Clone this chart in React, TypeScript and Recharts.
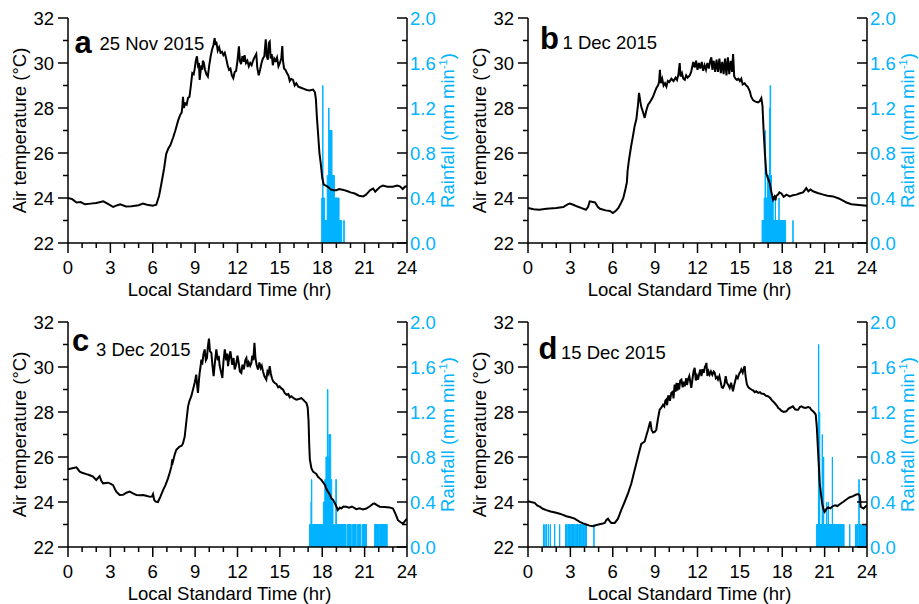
import React from 'react';
import { ComposedChart, Line, Area, XAxis, YAxis, Label, Customized } from 'recharts';

const FONT = '"Liberation Sans", Arial, Helvetica, sans-serif';
const BLUE = '#00b2ff';
const FS = 18.5;

const HOUR_TICKS = [0, 1, 2, 3, 4, 5, 6, 7, 8, 9, 10, 11, 12, 13, 14, 15, 16, 17, 18, 19, 20, 21, 22, 23, 24];
const TEMP_TICKS = [22, 23, 24, 25, 26, 27, 28, 29, 30, 31, 32];
const RAIN_TICKS = [0, 0.2, 0.4, 0.6, 0.8, 1.0, 1.2, 1.4, 1.6, 1.8, 2.0];

type Pair = [number, number];
type Run = [number, number, number]; // start hr, end hr, mm/min

// 25 Nov 2015
const tempA: Pair[] = [
  [0, 24.0], [0.3, 23.95], [0.6, 23.8], [0.9, 23.82], [1.2, 23.72], [1.6, 23.75], [2.0, 23.78], [2.5, 23.85],
  [2.8, 23.75], [3.2, 23.6], [3.5, 23.68], [3.7, 23.72], [4.1, 23.62], [4.5, 23.63], [5.0, 23.68], [5.3, 23.75],
  [5.6, 23.7], [6.0, 23.66], [6.25, 23.7], [6.45, 24.1], [6.6, 24.6], [6.8, 25.3], [6.95, 25.95], [7.1, 26.2],
  [7.25, 26.35], [7.45, 26.7], [7.6, 27.0], [7.8, 27.45], [7.95, 27.7], [8.05, 27.8], [8.1, 28.1], [8.14, 28.5],
  [8.2, 28.0], [8.3, 28.2], [8.4, 28.15], [8.5, 28.45], [8.6, 28.5], [8.7, 29.0], [8.8, 29.55], [8.9, 29.5],
  [8.97, 29.75], [9.05, 30.1], [9.13, 30.3], [9.2, 29.9], [9.27, 30.0], [9.32, 29.25], [9.38, 29.6], [9.44, 29.9],
  [9.5, 29.7], [9.55, 30.1], [9.62, 30.0], [9.7, 29.7], [9.8, 29.5], [9.9, 29.4], [10.0, 29.9], [10.1, 30.3],
  [10.2, 30.6], [10.3, 30.8], [10.38, 31.1], [10.45, 30.8], [10.5, 30.95], [10.6, 30.55], [10.7, 30.7], [10.8, 30.45],
  [10.9, 30.5], [11.0, 30.35], [11.1, 30.45], [11.2, 30.2], [11.3, 29.9], [11.4, 29.7], [11.5, 29.75], [11.6, 29.45],
  [11.7, 29.33], [11.8, 29.6], [11.9, 29.65], [12.0, 30.1], [12.1, 30.74], [12.17, 30.1], [12.25, 29.95], [12.35, 30.3],
  [12.45, 30.05], [12.5, 30.35], [12.6, 30.0], [12.7, 30.1], [12.8, 29.85], [12.9, 30.0], [13.0, 29.9], [13.1, 30.1],
  [13.2, 30.25], [13.33, 30.4], [13.4, 29.8], [13.5, 29.45], [13.6, 29.7], [13.7, 30.0], [13.8, 30.2], [13.9, 30.3],
  [14.0, 31.05], [14.07, 30.3], [14.15, 30.15], [14.22, 30.9], [14.28, 30.95], [14.35, 30.2], [14.42, 30.4], [14.5, 29.9],
  [14.6, 30.2], [14.7, 30.1], [14.8, 30.25], [14.9, 29.85], [15.0, 30.0], [15.1, 30.2], [15.17, 30.75], [15.22, 30.1],
  [15.3, 29.75], [15.4, 29.7], [15.5, 29.55], [15.6, 29.45], [15.7, 29.2], [15.8, 29.3], [15.93, 29.25], [16.05, 29.0],
  [16.16, 29.1], [16.3, 28.95], [16.5, 28.9], [16.7, 28.85], [16.9, 28.8], [17.1, 28.78], [17.35, 28.82], [17.48, 28.7],
  [17.55, 28.4], [17.62, 27.6], [17.7, 26.9], [17.8, 26.0], [17.9, 25.5], [18.0, 24.9], [18.1, 24.6], [18.25, 24.55],
  [18.4, 24.5], [18.6, 24.38], [18.8, 24.35], [19.0, 24.35], [19.2, 24.4], [19.5, 24.36], [19.8, 24.3], [20.0, 24.25],
  [20.3, 24.2], [20.6, 24.1], [20.9, 24.07], [21.1, 24.15], [21.25, 24.25], [21.4, 24.35], [21.6, 24.42], [21.75, 24.28],
  [21.9, 24.38], [22.1, 24.5], [22.3, 24.55], [22.6, 24.5], [23.0, 24.5], [23.3, 24.55], [23.5, 24.52], [23.7, 24.4],
  [23.85, 24.5], [24.0, 24.52],
];
const rainA: Run[] = [
  [17.96, 18.03, 0.4], [18.03, 18.05, 1.4], [18.05, 18.17, 0.4], [18.17, 18.35, 0.2], [18.35, 18.45, 0.6],
  [18.45, 18.48, 1.2], [18.48, 18.69, 1.0], [18.69, 18.86, 0.6], [18.86, 19.19, 0.4], [19.19, 19.38, 0.2],
  [19.52, 19.56, 0.2],
];

// 1 Dec 2015
const tempB: Pair[] = [
  [0, 23.56], [0.4, 23.5], [0.8, 23.48], [1.3, 23.52], [2.0, 23.56], [2.5, 23.6], [2.8, 23.72], [2.95, 23.75],
  [3.2, 23.7], [3.5, 23.62], [3.8, 23.55], [4.1, 23.48], [4.25, 23.6], [4.37, 23.85], [4.6, 23.82], [4.75, 23.8],
  [4.95, 23.6], [5.1, 23.52], [5.5, 23.45], [5.8, 23.42], [6.0, 23.33], [6.2, 23.42], [6.4, 23.56], [6.6, 23.8],
  [6.75, 24.0], [6.9, 24.4], [7.0, 24.7], [7.05, 25.2], [7.15, 25.7], [7.2, 25.9], [7.3, 26.3], [7.43, 26.75],
  [7.55, 27.2], [7.67, 27.5], [7.78, 28.1], [7.86, 28.67], [7.95, 28.3], [8.02, 28.05], [8.15, 27.8], [8.26, 27.56],
  [8.38, 27.9], [8.5, 28.15], [8.62, 28.25], [8.73, 28.37], [8.85, 28.5], [9.0, 28.75], [9.1, 28.9], [9.2, 29.0],
  [9.28, 29.15], [9.34, 29.7], [9.4, 29.1], [9.5, 29.3], [9.6, 29.0], [9.7, 29.1], [9.8, 28.95], [9.9, 29.2],
  [10.0, 29.15], [10.15, 29.3], [10.3, 29.2], [10.45, 29.35], [10.55, 29.25], [10.65, 29.5], [10.74, 30.0], [10.8, 29.4],
  [10.9, 29.55], [11.0, 29.3], [11.1, 29.25], [11.2, 29.45], [11.3, 29.35], [11.45, 29.45], [11.55, 29.6], [11.7, 30.05],
  [11.8, 29.8], [11.9, 30.1], [12.0, 29.7], [12.1, 30.0], [12.2, 29.75], [12.3, 30.05], [12.4, 29.65], [12.5, 29.9],
  [12.6, 29.7], [12.7, 30.0], [12.8, 29.75], [12.9, 30.1], [12.98, 30.25], [13.05, 29.7], [13.15, 30.1], [13.25, 29.6],
  [13.35, 30.15], [13.45, 29.6], [13.55, 30.2], [13.65, 29.55], [13.75, 30.05], [13.85, 29.5], [13.95, 30.2], [14.05, 29.45],
  [14.15, 30.25], [14.25, 29.5], [14.35, 30.1], [14.45, 29.6], [14.52, 30.4], [14.6, 29.4], [14.7, 29.3], [14.8, 29.25],
  [14.9, 29.3], [15.0, 29.2], [15.1, 29.3], [15.2, 29.05], [15.34, 29.1], [15.45, 29.0], [15.55, 28.95], [15.7, 28.75],
  [15.8, 28.5], [15.93, 28.35], [16.1, 28.28], [16.28, 28.25], [16.4, 28.3], [16.52, 28.44], [16.6, 28.1], [16.68, 27.0],
  [16.78, 25.9], [16.87, 25.1], [16.97, 24.9], [17.1, 24.7], [17.22, 24.3], [17.35, 23.92], [17.45, 24.05], [17.52, 23.9],
  [17.58, 24.1], [17.7, 24.15], [17.8, 24.25], [17.94, 24.2], [18.1, 24.05], [18.3, 24.15], [18.53, 24.07], [18.75, 24.12],
  [19.0, 24.15], [19.2, 24.2], [19.47, 24.25], [19.6, 24.35], [19.7, 24.44], [19.85, 24.3], [20.0, 24.38], [20.18, 24.3],
  [20.5, 24.22], [20.9, 24.15], [21.2, 24.1], [21.6, 24.07], [22.0, 23.98], [22.3, 23.88], [22.54, 23.8], [22.9, 23.72],
  [23.25, 23.7], [23.6, 23.68], [24.0, 23.66],
];
const rainB: Run[] = [
  [16.57, 16.72, 0.2], [16.72, 16.78, 0.4], [16.78, 16.82, 1.0], [16.82, 16.95, 0.4], [16.95, 17.1, 0.6],
  [17.1, 17.14, 1.2], [17.14, 17.18, 1.4], [17.18, 17.24, 0.6], [17.24, 17.36, 0.4], [17.36, 17.5, 0.2],
  [17.5, 17.52, 0.4], [17.52, 17.76, 0.2], [17.76, 17.78, 0.4], [17.78, 18.24, 0.2], [18.75, 18.77, 0.2],
];

// 3 Dec 2015
const tempC: Pair[] = [
  [0, 25.45], [0.3, 25.5], [0.6, 25.54], [0.83, 25.35], [1.0, 25.3], [1.3, 25.24], [1.5, 25.2], [1.77, 25.13],
  [2.0, 24.98], [2.24, 25.15], [2.35, 24.95], [2.48, 24.83], [2.83, 24.86], [3.0, 24.82], [3.19, 24.75], [3.3, 24.6],
  [3.42, 24.46], [3.66, 24.31], [3.9, 24.32], [4.13, 24.41], [4.37, 24.46], [4.6, 24.38], [4.84, 24.31], [5.1, 24.3],
  [5.31, 24.31], [5.6, 24.27], [5.78, 24.23], [5.95, 24.25], [6.02, 24.35], [6.1, 24.1], [6.2, 24.02], [6.37, 24.0],
  [6.55, 24.25], [6.73, 24.53], [6.9, 24.75], [7.08, 25.05], [7.2, 25.3], [7.32, 25.57], [7.38, 25.9], [7.43, 25.8],
  [7.55, 26.1], [7.67, 26.32], [7.8, 26.4], [7.9, 26.46], [8.05, 26.5], [8.14, 26.6], [8.26, 26.9], [8.4, 27.7],
  [8.5, 28.25], [8.6, 28.5], [8.73, 28.7], [8.85, 29.0], [8.97, 29.3], [9.08, 29.66], [9.14, 29.2], [9.2, 28.85],
  [9.27, 29.4], [9.32, 29.74], [9.38, 30.0], [9.44, 30.33], [9.5, 30.1], [9.6, 30.6], [9.68, 30.78], [9.76, 30.3],
  [9.84, 30.4], [9.9, 30.9], [9.98, 31.26], [10.05, 30.7], [10.15, 30.63], [10.22, 30.1], [10.31, 29.59], [10.4, 30.2],
  [10.5, 30.78], [10.6, 30.3], [10.67, 30.5], [10.74, 30.04], [10.83, 29.8], [10.93, 29.51], [11.0, 30.2], [11.1, 30.78],
  [11.2, 30.3], [11.27, 30.6], [11.33, 30.04], [11.43, 30.5], [11.5, 30.7], [11.56, 30.4], [11.63, 30.1], [11.72, 30.4],
  [11.8, 29.89], [11.9, 30.1], [12.0, 30.5], [12.08, 30.2], [12.17, 29.8], [12.27, 29.74], [12.35, 30.1], [12.45, 29.9],
  [12.55, 30.3], [12.63, 30.4], [12.72, 30.0], [12.8, 30.2], [12.9, 30.05], [12.98, 30.18], [13.05, 30.5], [13.12, 30.3],
  [13.2, 31.07], [13.27, 30.4], [13.35, 30.1], [13.45, 29.89], [13.55, 30.2], [13.65, 29.95], [13.72, 30.05], [13.8, 29.81],
  [13.9, 29.6], [14.04, 29.44], [14.12, 29.8], [14.2, 29.7], [14.28, 30.04], [14.36, 29.7], [14.44, 29.5], [14.52, 29.37],
  [14.62, 29.3], [14.75, 29.25], [14.88, 29.1], [14.98, 29.14], [15.1, 29.05], [15.22, 29.0], [15.34, 28.85], [15.46, 28.77],
  [15.6, 28.8], [15.7, 28.65], [15.81, 28.7], [16.0, 28.6], [16.16, 28.55], [16.35, 28.58], [16.52, 28.62], [16.65, 28.55],
  [16.76, 28.47], [16.88, 28.4], [16.97, 28.2], [17.03, 27.6], [17.08, 26.5], [17.12, 25.9], [17.23, 25.5], [17.35, 25.35],
  [17.46, 25.3], [17.58, 25.25], [17.7, 25.12], [17.82, 25.05], [17.94, 24.98], [18.05, 24.88], [18.2, 24.75], [18.28, 24.6],
  [18.4, 24.46], [18.52, 24.35], [18.65, 24.16], [18.76, 24.1], [18.9, 23.94], [19.0, 23.8], [19.1, 23.64], [19.25, 23.75],
  [19.35, 23.71], [19.5, 23.8], [19.7, 23.79], [19.9, 23.75], [20.1, 23.8], [20.41, 23.68], [20.65, 23.72], [20.88, 23.67],
  [21.12, 23.71], [21.4, 23.82], [21.6, 23.92], [21.71, 23.93], [21.9, 23.85], [22.07, 23.79], [22.4, 23.78], [22.77, 23.76],
  [23.01, 23.71], [23.2, 23.45], [23.36, 23.19], [23.55, 23.1], [23.72, 23.04], [23.85, 23.15], [24.0, 23.26],
];
const rainC: Run[] = [
  [17.1, 17.2, 0.2], [17.2, 17.23, 0.4], [17.23, 17.26, 0.6], [17.26, 18.08, 0.2], [18.08, 18.18, 0.4],
  [18.18, 18.26, 0.6], [18.26, 18.36, 0.8], [18.36, 18.4, 1.4], [18.4, 18.47, 0.8], [18.47, 18.6, 1.0],
  [18.6, 18.67, 0.6], [18.67, 18.76, 0.4], [18.76, 18.96, 0.2], [18.96, 19.0, 0.6], [19.0, 19.68, 0.2],
  [19.76, 20.05, 0.2], [20.12, 20.4, 0.2], [20.48, 20.72, 0.2], [20.82, 21.13, 0.2], [21.71, 21.98, 0.2],
  [22.04, 22.6, 0.2],
];

// 15 Dec 2015
const tempD: Pair[] = [
  [0, 24.04], [0.2, 24.0], [0.47, 23.96], [0.65, 23.85], [0.83, 23.79], [1.05, 23.7], [1.3, 23.64], [1.6, 23.58],
  [2.0, 23.52], [2.3, 23.47], [2.71, 23.37], [3.0, 23.32], [3.3, 23.26], [3.5, 23.18], [3.66, 23.12], [3.9, 23.05],
  [4.13, 23.0], [4.35, 22.95], [4.6, 22.92], [4.85, 22.98], [5.07, 23.01], [5.3, 23.04], [5.43, 23.07], [5.55, 23.2],
  [5.66, 23.26], [5.78, 23.15], [5.9, 23.07], [6.14, 23.07], [6.37, 23.26], [6.6, 23.64], [6.84, 24.0], [7.08, 24.38],
  [7.32, 24.83], [7.55, 25.42], [7.79, 26.02], [8.02, 26.58], [8.26, 26.69], [8.4, 27.0], [8.5, 27.21], [8.6, 27.45],
  [8.66, 27.58], [8.75, 27.2], [8.85, 27.09], [8.97, 27.12], [9.08, 27.21], [9.2, 27.7], [9.32, 28.1], [9.45, 28.2],
  [9.56, 28.32], [9.65, 28.25], [9.72, 28.5], [9.79, 28.55], [9.85, 28.3], [9.92, 28.7], [9.98, 28.7], [10.05, 28.5],
  [10.15, 28.85], [10.25, 28.9], [10.3, 28.6], [10.38, 29.22], [10.45, 28.9], [10.52, 29.3], [10.58, 28.95], [10.62, 29.29],
  [10.7, 29.0], [10.78, 29.4], [10.86, 29.44], [10.95, 29.1], [11.02, 29.35], [11.1, 29.14], [11.2, 29.5], [11.26, 29.2],
  [11.33, 29.44], [11.42, 29.6], [11.5, 29.3], [11.56, 29.07], [11.65, 29.5], [11.72, 29.8], [11.8, 29.96], [11.88, 29.4],
  [11.96, 29.6], [12.04, 29.44], [12.12, 29.7], [12.2, 29.89], [12.28, 29.6], [12.36, 29.9], [12.44, 29.74], [12.52, 30.0],
  [12.6, 30.1], [12.63, 30.18], [12.7, 29.6], [12.78, 29.8], [12.86, 29.66], [12.95, 29.8], [13.05, 29.65], [13.15, 29.8],
  [13.22, 29.74], [13.3, 29.5], [13.38, 29.55], [13.45, 29.44], [13.55, 29.6], [13.65, 29.3], [13.72, 29.1], [13.8, 29.07],
  [13.9, 29.2], [14.0, 29.59], [14.08, 29.3], [14.18, 29.2], [14.28, 29.07], [14.38, 29.3], [14.45, 29.1], [14.51, 28.92],
  [14.6, 29.2], [14.68, 29.4], [14.75, 29.59], [14.85, 29.5], [14.95, 29.7], [15.05, 29.8], [15.1, 29.89], [15.2, 29.75],
  [15.28, 29.95], [15.34, 30.04], [15.4, 29.6], [15.5, 29.22], [15.6, 29.1], [15.7, 29.05], [15.81, 29.0], [15.95, 28.95],
  [16.05, 28.88], [16.16, 28.92], [16.3, 28.85], [16.42, 28.88], [16.52, 28.82], [16.7, 28.8], [16.85, 28.72], [16.99, 28.7],
  [17.15, 28.62], [17.3, 28.5], [17.46, 28.4], [17.6, 28.3], [17.72, 28.18], [17.82, 28.13], [17.95, 28.05], [18.1, 28.0],
  [18.29, 28.03], [18.45, 28.15], [18.6, 28.2], [18.76, 28.25], [18.9, 28.12], [19.0, 28.1], [19.12, 28.1], [19.25, 28.22],
  [19.35, 28.25], [19.5, 28.2], [19.65, 28.18], [19.82, 28.22], [19.95, 28.2], [20.05, 28.1], [20.18, 28.03], [20.3, 27.95],
  [20.37, 27.88], [20.45, 27.3], [20.53, 26.32], [20.6, 25.5], [20.65, 24.83], [20.75, 24.3], [20.85, 23.85], [20.95, 23.62],
  [21.0, 23.56], [21.12, 23.68], [21.24, 23.76], [21.4, 23.72], [21.59, 23.82], [21.75, 23.85], [21.9, 23.82], [22.07, 23.9],
  [22.3, 24.0], [22.54, 24.11], [22.75, 24.2], [23.01, 24.26], [23.2, 24.32], [23.36, 24.35], [23.48, 24.3], [23.52, 24.1],
  [23.55, 23.79], [23.65, 23.75], [23.76, 23.71], [23.9, 23.8], [24.0, 23.86],
];
const rainD: Run[] = [
  [1.1, 1.12, 0.2], [1.19, 1.21, 0.2], [1.29, 1.31, 0.2], [1.43, 1.45, 0.2], [1.57, 1.59, 0.2], [1.88, 1.9, 0.2],
  [2.23, 2.25, 0.2], [2.66, 2.76, 0.2], [2.82, 3.0, 0.2], [3.05, 3.3, 0.2], [3.37, 3.55, 0.2], [3.6, 3.78, 0.2],
  [3.84, 3.93, 0.2], [3.98, 4.14, 0.2], [4.66, 4.68, 0.2],
  [20.42, 20.56, 0.2], [20.56, 20.59, 1.8], [20.59, 20.63, 0.2], [20.63, 20.66, 1.2], [20.66, 20.82, 0.2],
  [20.82, 20.85, 1.0], [20.85, 20.92, 0.2], [20.92, 20.94, 0.8], [20.94, 21.13, 0.2], [21.13, 21.15, 0.4],
  [21.15, 21.25, 0.2], [21.25, 21.27, 0.4], [21.27, 21.54, 0.2], [21.54, 21.56, 0.8], [21.56, 22.38, 0.2],
  [22.77, 22.79, 0.2], [23.18, 23.2, 0.2], [23.26, 23.36, 0.2], [23.42, 23.45, 0.6], [23.45, 23.62, 0.2],
  [23.68, 24.0, 0.2],
];

// rain runs -> step rows (null rows split separate showers)
const toRainRows = (runs: Run[]) => {
  const rows: { h: number; r: number | null }[] = [];
  runs.forEach(([s, e, v], i) => {
    const prev = runs[i - 1];
    const next = runs[i + 1];
    if (!prev || prev[1] !== s) {
      if (prev) rows.push({ h: (prev[1] + s) / 2, r: null });
      rows.push({ h: s, r: 0 });
    }
    rows.push({ h: s, r: v });
    if (!next || next[0] !== e) rows.push({ h: e, r: 0 });
  });
  return rows;
};

const BottomTick = (p: any) => {
  const v = p.payload.value;
  const major = v % 3 === 0;
  return (
    <g>
      <line x1={p.x} x2={p.x} y1={p.y} y2={p.y + (major ? 10 : 5)} stroke="#000" strokeWidth={1.5} />
      {major && (
        <text x={p.x} y={p.y + 31} textAnchor="middle" fontSize={FS} fontFamily={FONT} fill="#000">{v}</text>
      )}
    </g>
  );
};

const TopTick = (p: any) => {
  const major = p.payload.value % 3 === 0;
  return <line x1={p.x} x2={p.x} y1={p.y} y2={p.y + (major ? 10 : 5)} stroke="#000" strokeWidth={1.5} />;
};

const LeftTick = (p: any) => {
  const v = p.payload.value;
  const major = v % 2 === 0;
  return (
    <g>
      <line x1={p.x - (major ? 10 : 5)} x2={p.x} y1={p.y} y2={p.y} stroke="#000" strokeWidth={1.5} />
      {major && (
        <text x={p.x - 14} y={p.y + 6.6} textAnchor="end" fontSize={FS} fontFamily={FONT} fill="#000">{v}</text>
      )}
    </g>
  );
};

const RightTick = (p: any) => {
  const v = p.payload.value;
  const major = Math.round(v * 10) % 4 === 0;
  return (
    <g>
      <line x1={p.x - (major ? 10 : 5)} x2={p.x} y1={p.y} y2={p.y} stroke="#000" strokeWidth={1.5} />
      {major && (
        <text x={p.x + 3} y={p.y + 6.6} textAnchor="start" fontSize={FS} fontFamily={FONT} fill={BLUE}>{v.toFixed(1)}</text>
      )}
    </g>
  );
};

const timeTitle = (props: any) => {
  const vb = props.viewBox ?? { x: 68, y: 243, width: 339, height: 57 };
  return (
    <text x={vb.x + vb.width / 2 - 8} y={vb.y + 53} textAnchor="middle" fontSize={FS} fontFamily={FONT} fill="#000">
      Local Standard Time (hr)
    </text>
  );
};

const tempTitle = (props: any) => {
  const vb = props.viewBox ?? { x: 0, y: 18, width: 68, height: 225 };
  const cx = vb.x + 26;
  const cy = vb.y + vb.height / 2;
  return (
    <text x={cx} y={cy} transform={`rotate(-90 ${cx} ${cy})`} textAnchor="middle" fontSize={FS} fontFamily={FONT} fill="#000">
      Air temperature (°C)
    </text>
  );
};

const rainTitle = (props: any) => {
  const vb = props.viewBox ?? { x: 407, y: 18, width: 53, height: 225 };
  const cx = vb.x + 47;
  const cy = vb.y + vb.height / 2;
  return (
    <text x={cx} y={cy} transform={`rotate(-90 ${cx} ${cy})`} textAnchor="middle" fontSize={FS} fontFamily={FONT} fill={BLUE}>
      Rainfall (mm min<tspan dy={-7} fontSize={11}>-1</tspan><tspan dy={7}>)</tspan>
    </text>
  );
};

interface PanelProps {
  left: number;
  top: number;
  letter: string;
  date: string;
  letterX: number;
  letterY: number;
  dateX: number;
  dateY: number;
  temp: Pair[];
  rain: Run[];
}

const axisLine = { stroke: '#000', strokeWidth: 1.5 };

const Panel = ({ left, top, letter, date, letterX, letterY, dateX, dateY, temp, rain }: PanelProps) => {
  const tRows = temp.map(([h, t]) => ({ h, t }));
  const rRows = toRainRows(rain);
  return (
    <div style={{ position: 'absolute', left, top }}>
      <ComposedChart width={460} height={300} margin={{ top: 18, right: 0, bottom: 0, left: 0 }}>
        <XAxis
          xAxisId="top"
          orientation="top"
          type="number"
          dataKey="h"
          domain={[0, 24]}
          allowDataOverflow
          ticks={HOUR_TICKS}
          interval={0}
          height={0}
          tickSize={0}
          tickMargin={0}
          tickLine={false}
          tick={TopTick}
          axisLine={axisLine}
        />
        <XAxis
          xAxisId="bot"
          type="number"
          dataKey="h"
          domain={[0, 24]}
          allowDataOverflow
          ticks={HOUR_TICKS}
          interval={0}
          height={57}
          tickSize={0}
          tickMargin={0}
          tickLine={false}
          tick={BottomTick}
          axisLine={axisLine}
        >
          <Label content={timeTitle} />
        </XAxis>
        <YAxis
          yAxisId="t"
          type="number"
          domain={[22, 32]}
          allowDataOverflow
          ticks={TEMP_TICKS}
          interval={0}
          width={68}
          tickSize={0}
          tickMargin={0}
          tickLine={false}
          tick={LeftTick}
          axisLine={axisLine}
        >
          <Label content={tempTitle} />
        </YAxis>
        <YAxis
          yAxisId="r"
          orientation="right"
          type="number"
          domain={[0, 2]}
          allowDataOverflow
          ticks={RAIN_TICKS}
          interval={0}
          width={53}
          tickSize={0}
          tickMargin={0}
          tickLine={false}
          tick={RightTick}
          axisLine={axisLine}
        >
          <Label content={rainTitle} />
        </YAxis>
        <Area
          xAxisId="top"
          yAxisId="r"
          data={rRows}
          dataKey="r"
          type="stepAfter"
          stroke={BLUE}
          strokeWidth={1}
          fill={BLUE}
          fillOpacity={1}
          connectNulls={false}
          dot={false}
          activeDot={false}
          isAnimationActive={false}
        />
        <Line
          xAxisId="bot"
          yAxisId="t"
          data={tRows}
          dataKey="t"
          type="linear"
          stroke="#000"
          strokeWidth={2}
          dot={false}
          activeDot={false}
          isAnimationActive={false}
        />
        <Customized
          component={() => (
            <g fontFamily={FONT} fill="#000">
              <text x={letterX} y={letterY} fontSize={31} fontWeight="bold">{letter}</text>
              <text x={dateX} y={dateY} fontSize={FS}>{date}</text>
            </g>
          )}
        />
      </ComposedChart>
    </div>
  );
};

export default function App() {
  return (
    <div style={{ position: 'absolute', left: 0, top: 0, width: 919, height: 604, background: '#fff' }}>
      <Panel left={0} top={0} letter="a" date="25 Nov 2015" letterX={74.5} letterY={53.3} dateX={99.5} dateY={50} temp={tempA} rain={rainA} />
      <Panel left={460} top={0} letter="b" date="1 Dec 2015" letterX={80} letterY={49.3} dateX={102.5} dateY={49} temp={tempB} rain={rainB} />
      <Panel left={0} top={304} letter="c" date="3 Dec 2015" letterX={72} letterY={46.7} dateX={96} dateY={51.7} temp={tempC} rain={rainC} />
      <Panel left={460} top={304} letter="d" date="15 Dec 2015" letterX={78.5} letterY={55.3} dateX={101} dateY={55} temp={tempD} rain={rainD} />
    </div>
  );
}
